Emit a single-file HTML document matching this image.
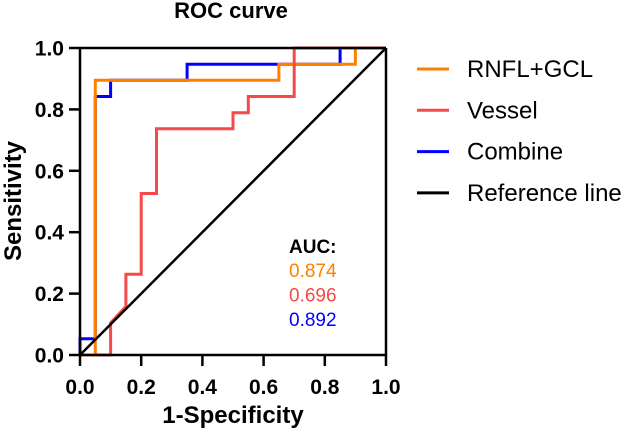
<!DOCTYPE html>
<html><head><meta charset="utf-8"><style>
body{margin:0;background:#fff;}
svg{display:block;font-family:"Liberation Sans",Arial,sans-serif;}
</style></head><body>
<svg id="chart" width="629" height="433" viewBox="0 0 629 433">
<text x="231" y="18" text-anchor="middle" font-size="22" font-weight="bold">ROC curve</text>
<g id="plot"></g>
<g id="axes"></g>
<text x="233" y="423" text-anchor="middle" font-size="24" font-weight="bold">1-Specificity</text>
<text transform="translate(21,201) rotate(-90)" text-anchor="middle" font-size="24" font-weight="bold">Sensitivity</text>
<text x="289" y="253" font-size="19" font-weight="bold">AUC:</text>
<g id="auc"></g>
<g id="legend"></g>
</svg>
<script>
const ticks = [0, 0.2, 0.4, 0.6, 0.8, 1.0];
const tickLabels = ["0.0", "0.2", "0.4", "0.6", "0.8", "1.0"];
const seriesNames = ["Combine", "RNFL+GCL", "Vessel", "Reference line"];
const combineX = [0, 0, 0.05, 0.05, 0.1, 0.1, 0.35, 0.35, 0.85, 0.85, 1];
const combineY = [0, 0.053, 0.053, 0.842, 0.842, 0.895, 0.895, 0.947, 0.947, 1, 1];
const rnflX = [0, 0.05, 0.05, 0.65, 0.65, 0.9, 0.9, 1];
const rnflY = [0, 0, 0.895, 0.895, 0.947, 0.947, 1, 1];
const vesselX = [0.05, 0.1, 0.1, 0.15, 0.15, 0.2, 0.2, 0.25, 0.25, 0.5, 0.5, 0.55, 0.55, 0.7, 0.7, 1];
const vesselY = [0, 0, 0.105, 0.158, 0.263, 0.263, 0.526, 0.526, 0.737, 0.737, 0.789, 0.789, 0.842, 0.842, 1, 1];
const refX = [0, 1];
const refY = [0, 1];
const aucValues = ["0.874", "0.696", "0.892"];
const legendNames = ["RNFL+GCL", "Vessel", "Combine", "Reference line"];

const colors = {"RNFL+GCL":"#ff8000","Vessel":"#f44a4a","Combine":"#0000ff","Reference line":"#000"};
const X0=80, X1=386, Y0=355, Y1=48;
const sx = v => X0 + v*(X1-X0);
const sy = v => Y0 - v*(Y0-Y1);
const NS="http://www.w3.org/2000/svg";
function mk(tag, attrs, parent){const e=document.createElementNS(NS,tag);for(const k in attrs)e.setAttribute(k,attrs[k]);parent.appendChild(e);return e;}
const plot=document.getElementById('plot');
const data={"Combine":[combineX,combineY],"RNFL+GCL":[rnflX,rnflY],"Vessel":[vesselX,vesselY],"Reference line":[refX,refY]};
seriesNames.forEach(n=>{
  const [xs,ys]=data[n];
  const pts=xs.map((x,i)=>sx(x).toFixed(1)+','+sy(ys[i]).toFixed(1)).join(' ');
  const p=mk('polyline',{points:pts,fill:'none',stroke:colors[n],'stroke-width':n==="Reference line"?2.5:3,'stroke-linejoin':'miter'},plot);
  
  
});
const axes=document.getElementById('axes');
mk('line',{x1:X0,y1:Y1,x2:X0,y2:Y0,stroke:'#000','stroke-width':2.5},axes);
mk('line',{x1:X0,y1:Y0,x2:X1,y2:Y0,stroke:'#000','stroke-width':2.5},axes);
mk('line',{x1:X0,y1:Y1,x2:X1,y2:Y1,stroke:'#000','stroke-width':2.5},axes);
mk('line',{x1:X1,y1:Y1,x2:X1,y2:Y0,stroke:'#000','stroke-width':2.5},axes);
ticks.forEach((t,i)=>{
  mk('line',{x1:sx(t),y1:Y0,x2:sx(t),y2:Y0+11,stroke:'#000','stroke-width':2.5},axes);
  mk('line',{x1:X0-11,y1:sy(t),x2:X0,y2:sy(t),stroke:'#000','stroke-width':2.5},axes);
  const tx=mk('text',{x:sx(t),y:394,'text-anchor':'middle','font-size':21,'font-weight':'bold'},axes);
  tx.textContent=tickLabels[i];
  
  
  const ty=mk('text',{x:64,y:sy(t)+7.5,'text-anchor':'end','font-size':21,'font-weight':'bold'},axes);
  ty.textContent=tickLabels[i];
  
  
});
const auc=document.getElementById('auc');
const aucColors=["#ff8000","#f44a4a","#0000ff"];
aucValues.forEach((v,i)=>{
  const t=mk('text',{x:289,y:277+i*24.5,'font-size':19,fill:aucColors[i]},auc);
  t.textContent=v;
  
  
});
const lg=document.getElementById('legend');
legendNames.forEach((n,i)=>{
  const y=69+i*41.3;
  const l=mk('line',{x1:417,y1:y,x2:449,y2:y,stroke:colors[n],'stroke-width':3},lg);
  
  
  const t=mk('text',{x:467,y:y+8,'font-size':24},lg);
  t.textContent=n;
  
  
});
</script>
</body></html>
